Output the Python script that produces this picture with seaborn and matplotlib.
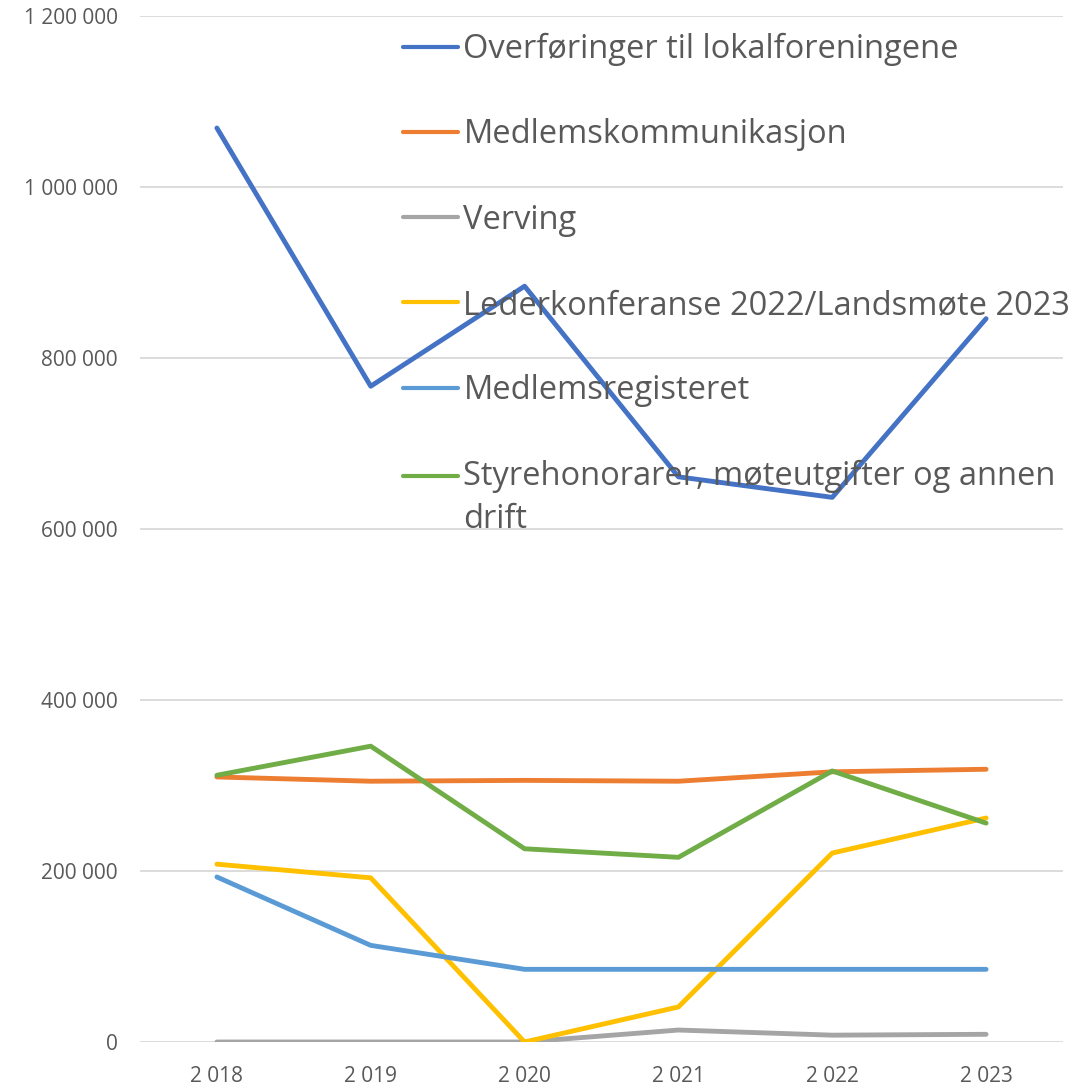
import matplotlib
matplotlib.use("Agg")
import matplotlib.pyplot as plt
import seaborn as sns
import numpy as np
import pandas as pd
from matplotlib.ticker import FuncFormatter

years = ["2 018", "2 019", "2 020", "2 021", "2 022", "2 023"]
series_names = [
    "Overføringer til lokalforeningene",
    "Medlemskommunikasjon",
    "Verving",
    "Lederkonferanse 2022/Landsmøte 2023",
    "Medlemsregisteret",
    "Styrehonorarer, møteutgifter og annen\ndrift",
]
overforinger = [1069000, 767000, 884000, 661000, 637000, 846000]
medlemskommunikasjon = [310000, 305000, 306000, 305000, 316000, 319000]
verving = [0, 0, 0, 14000, 8000, 9000]
lederkonferanse = [208000, 192000, 0, 41000, 221000, 262000]
medlemsregisteret = [193000, 113000, 85000, 85000, 85000, 85000]
styrehonorarer = [312000, 346000, 226000, 216000, 317000, 256000]
colors = ["#4472C4", "#ED7D31", "#A5A5A5", "#FFC000", "#5B9BD5", "#70AD47"]
yticks = [0, 200000, 400000, 600000, 800000, 1000000, 1200000]

all_values = [overforinger, medlemskommunikasjon, verving,
              lederkonferanse, medlemsregisteret, styrehonorarer]
rows = []
for name, vals in zip(series_names, all_values):
    for yr, v in zip(years, vals):
        rows.append({"year": yr, "value": v, "series": name})
df = pd.DataFrame(rows)

sns.set_theme(style="white")
plt.rcParams["font.family"] = ["Open Sans", "DejaVu Sans"]
text_color = "#595959"

W, H = 1086, 1088
fig = plt.figure(figsize=(W / 100, H / 100), dpi=100)
ax = fig.add_axes([140 / W, 1 - 1042 / H, (1063 - 140) / W, (1042 - 16) / H])

sns.lineplot(data=df, x="year", y="value", hue="series", hue_order=series_names,
             palette=colors, linewidth=3.5, ax=ax, sort=False,
             solid_capstyle="round", solid_joinstyle="round")

ax.set_xlim(-0.5, 5.5)
ax.set_ylim(0, 1200000)
ax.set_yticks(yticks)
ax.yaxis.set_major_formatter(FuncFormatter(lambda v, p: f"{int(v):,}".replace(",", " ")))
ax.grid(axis="y", color="#D9D9D9", linewidth=1.3)
ax.set_axisbelow(True)
for s in ax.spines.values():
    s.set_visible(False)
ax.tick_params(axis="both", length=0, colors=text_color, labelsize=15)
ax.tick_params(axis="y", pad=16)
ax.tick_params(axis="x", pad=17)
ax.set_xlabel("")
ax.set_ylabel("")

handles, labels = ax.get_legend_handles_labels()
if ax.get_legend():
    ax.get_legend().remove()
leg = fig.legend(handles, labels, loc="upper left",
                 bbox_to_anchor=(403 / W, 1 - 33 / H), frameon=False,
                 fontsize=23.5, labelcolor=text_color, handlelength=1.7,
                 handletextpad=0.15, labelspacing=1.6, borderpad=0,
                 borderaxespad=0)
for t in leg.get_texts():
    t.set_linespacing(1.4)
for l in leg.get_lines():
    l.set_linewidth(3)
green = leg.get_lines()[5]
green.set_ydata(np.asarray(green.get_ydata()) + 16.2)

fig.savefig("out.png", dpi=100)
